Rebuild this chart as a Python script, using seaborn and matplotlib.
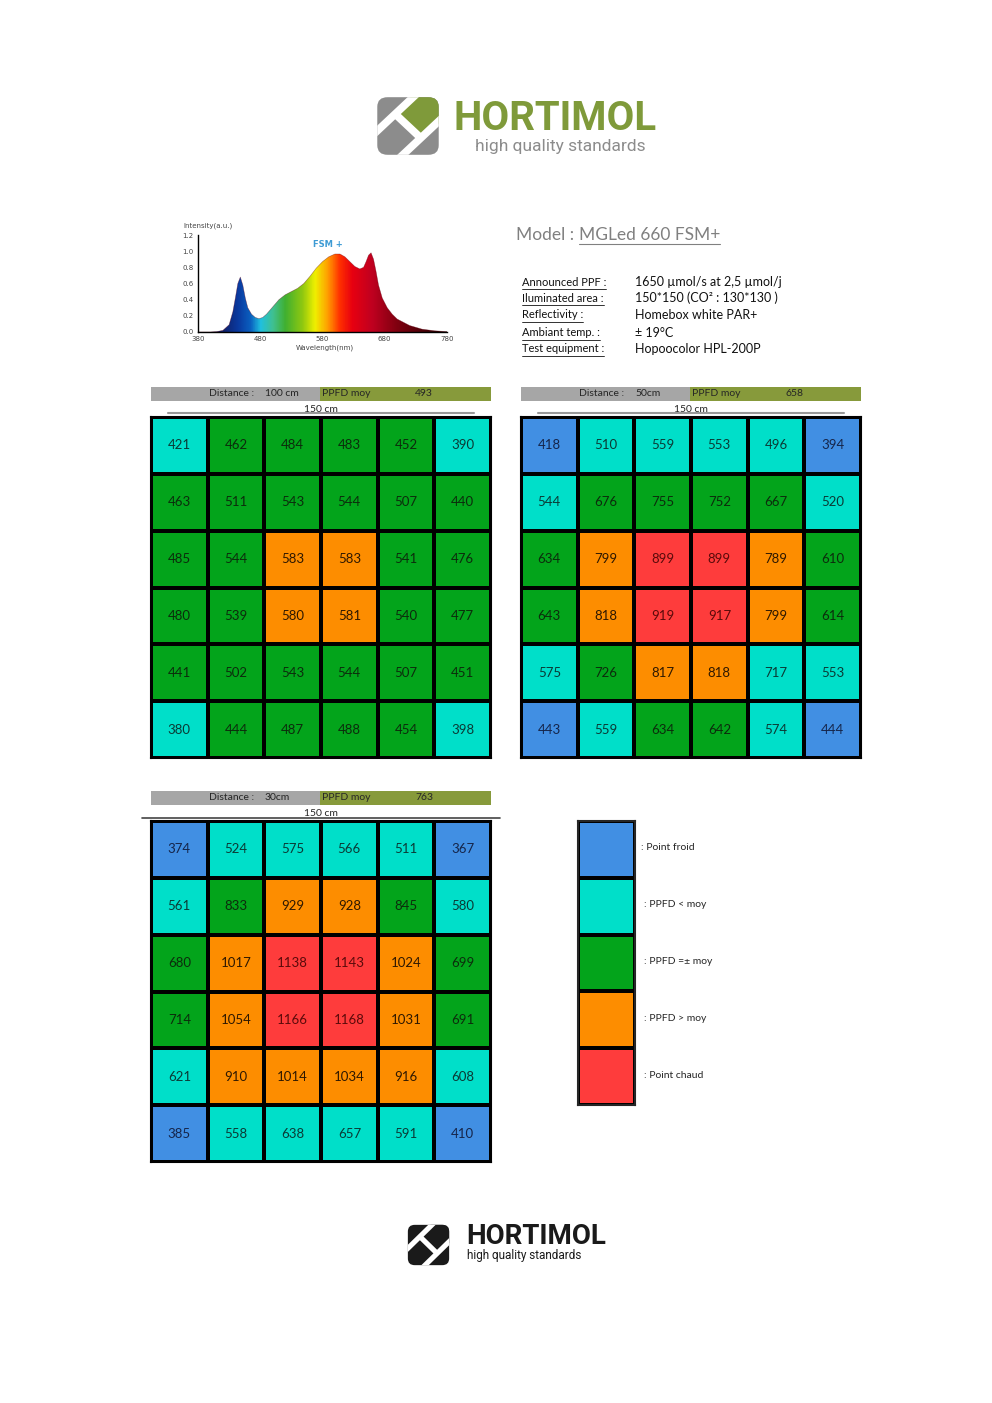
import matplotlib
matplotlib.use("Agg")
import matplotlib.pyplot as plt
from matplotlib.colors import ListedColormap, LinearSegmentedColormap
from matplotlib.patches import Rectangle, FancyBboxPatch, Polygon
from matplotlib.lines import Line2D
import numpy as np
import seaborn as sns

sns.set_style("white")
plt.rcParams['font.family'] = ['Lato', 'DejaVu Sans']

W, H = 992, 1403

# --- données ---
wavelength = [380, 400, 410, 420, 430, 436, 440, 444, 448, 452, 456, 460, 466, 472, 478, 484,
              490, 500, 510, 520, 530, 540, 550, 560, 570, 580, 590, 600, 608, 616, 624, 632,
              640, 646, 650, 654, 658, 662, 666, 670, 676, 684, 692, 700, 720, 740, 760, 780]
intensity = [0.0, 0.0, 0.005, 0.02, 0.09, 0.25, 0.42, 0.60, 0.68, 0.58, 0.42, 0.30, 0.22, 0.18,
             0.165, 0.18, 0.22, 0.31, 0.40, 0.46, 0.50, 0.54, 0.60, 0.69, 0.79, 0.87, 0.93, 0.965,
             0.965, 0.93, 0.87, 0.81, 0.78, 0.80, 0.87, 0.95, 0.98, 0.90, 0.75, 0.58, 0.42, 0.30,
             0.22, 0.16, 0.08, 0.035, 0.015, 0.005]
wl_ticks = [380, 480, 580, 680, 780]
int_ticks = [0.0, 0.2, 0.4, 0.6, 0.8, 1.0, 1.2]

info_labels = ["Announced PPF :", "Iluminated area :", "Reflectivity :", "Ambiant temp. :", "Test equipment :"]
info_values = ["1650 µmol/s at 2,5 µmol/j", "150*150 (CO² : 130*130 )", "Homebox white PAR+",
               "± 19°C", "Hopoocolor HPL-200P"]

distances = ["100 cm", "50cm", "30cm"]
ppfd_moy = [493, 658, 763]

vals_100 = [[421, 462, 484, 483, 452, 390],
            [463, 511, 543, 544, 507, 440],
            [485, 544, 583, 583, 541, 476],
            [480, 539, 580, 581, 540, 477],
            [441, 502, 543, 544, 507, 451],
            [380, 444, 487, 488, 454, 398]]
cls_100 = [[1, 2, 2, 2, 2, 1],
           [2, 2, 2, 2, 2, 2],
           [2, 2, 3, 3, 2, 2],
           [2, 2, 3, 3, 2, 2],
           [2, 2, 2, 2, 2, 2],
           [1, 2, 2, 2, 2, 1]]

vals_50 = [[418, 510, 559, 553, 496, 394],
           [544, 676, 755, 752, 667, 520],
           [634, 799, 899, 899, 789, 610],
           [643, 818, 919, 917, 799, 614],
           [575, 726, 817, 818, 717, 553],
           [443, 559, 634, 642, 574, 444]]
cls_50 = [[0, 1, 1, 1, 1, 0],
          [1, 2, 2, 2, 2, 1],
          [2, 3, 4, 4, 3, 2],
          [2, 3, 4, 4, 3, 2],
          [1, 2, 3, 3, 1, 1],
          [0, 1, 2, 2, 1, 0]]

vals_30 = [[374, 524, 575, 566, 511, 367],
           [561, 833, 929, 928, 845, 580],
           [680, 1017, 1138, 1143, 1024, 699],
           [714, 1054, 1166, 1168, 1031, 691],
           [621, 910, 1014, 1034, 916, 608],
           [385, 558, 638, 657, 591, 410]]
cls_30 = [[0, 1, 1, 1, 1, 0],
          [1, 2, 3, 3, 2, 1],
          [2, 3, 4, 4, 3, 2],
          [2, 3, 4, 4, 3, 2],
          [1, 3, 3, 3, 3, 1],
          [0, 1, 1, 1, 1, 0]]

legend_labels = [": Point froid", ": PPFD < moy", ": PPFD =± moy", ": PPFD > moy", ": Point chaud"]

# couleurs
cell_colors = ["#418fe3", "#00dfc9", "#03a41b", "#fd8d00", "#fe3c3c"]
text_colors = ["#15254a", "#0b3a35", "#0c2c0c", "#2e1800", "#5a0a0a"]
cell_cmap = ListedColormap(cell_colors)


def fx(x):
    return x / W


def fy(y):
    return 1 - y / H


fig = plt.figure(figsize=(W / 100, H / 100), dpi=100)


def rect(x, y, w, h, color, **kw):
    fig.add_artist(Rectangle((fx(x), fy(y + h)), w / W, h / H, transform=fig.transFigure,
                             facecolor=color, edgecolor='none', **kw))


def hline(x0, x1, y, color, lw):
    fig.add_artist(Line2D([fx(x0), fx(x1)], [fy(y), fy(y)], transform=fig.transFigure,
                          color=color, linewidth=lw))


def underline(t, color, lw=0.7, off=2):
    r = fig.canvas.get_renderer()
    bb = t.get_window_extent(r)
    fig.add_artist(Line2D([bb.x0 / W, bb.x1 / W], [(bb.y0 - off) / H] * 2,
                          transform=fig.transFigure, color=color, linewidth=lw))


def logo_icon(x, y, w, h, base, accent):
    ax = fig.add_axes([fx(x), fy(y + h), w / W, h / H])
    ax.set_xlim(0, 1)
    ax.set_ylim(0, 1)
    ax.axis('off')
    box = FancyBboxPatch((0.02, 0.02), 0.96, 0.96, boxstyle="round,pad=0,rounding_size=0.16",
                         facecolor=base, edgecolor='none')
    ax.add_patch(box)
    green = Polygon([(0.3, 0.7), (0.6, 1.05), (1.05, 1.05), (1.05, 0.6), (0.7, 0.3)],
                    facecolor=accent, edgecolor='none')
    ax.add_patch(green)
    green.set_clip_path(box)
    lw = w * 0.12 * 0.72
    for xs, ys in [([-0.2, 0.8], [0.2, 1.2]), ([0.2, 1.2], [-0.2, 0.8]), ([0.28, 0.72], [0.72, 0.28])]:
        ln, = ax.plot(xs, ys, color='white', linewidth=lw, solid_capstyle='butt')
        ln.set_clip_path(box)


# --- logo haut ---
logo_icon(376, 96, 64, 60, '#8c8c8c', '#7f9a3a')
fig.text(fx(453), fy(119), "HORTIMOL", fontsize=29, fontweight='bold', color='#7f9a3a',
         family=['Roboto', 'DejaVu Sans'], va='center', ha='left')
fig.text(fx(475), fy(147), "high quality standards", fontsize=12.5, color='#8c8c8c',
         family=['Roboto', 'DejaVu Sans'], va='center', ha='left')

# --- spectre ---
spec_ax = fig.add_axes([fx(198), fy(332), (447 - 198) / W, (332 - 235) / H])
spec_cmap = LinearSegmentedColormap.from_list("spec", [
    (0.0, "#1a0a40"), (0.1, "#10206a"), (0.16, "#0a3aa0"), (0.21, "#0a60c0"),
    (0.25, "#20c0e0"), (0.3, "#40c090"), (0.35, "#40b030"), (0.42, "#90c810"),
    (0.47, "#f0f000"), (0.52, "#ffa000"), (0.57, "#ff3000"), (0.62, "#e80010"),
    (0.7, "#c00020"), (0.8, "#800010"), (1.0, "#200000")])
sns.lineplot(x=wavelength, y=intensity, ax=spec_ax, color='#600010', linewidth=0.4, alpha=0.5)
poly = spec_ax.fill_between(wavelength, intensity, 0, facecolor='none', edgecolor='none')
grad = np.linspace(380, 780, 400).reshape(1, -1)
img = spec_ax.imshow(grad, extent=[380, 780, 0, 1.2], aspect='auto', cmap=spec_cmap,
                     vmin=380, vmax=780, origin='lower', zorder=1)
img.set_clip_path(poly.get_paths()[0], transform=spec_ax.transData)
spec_ax.set_xlim(380, 780)
spec_ax.set_ylim(0, 1.2)
spec_ax.set_xticks(wl_ticks)
spec_ax.set_xticklabels([str(v) for v in wl_ticks], family='DejaVu Sans', fontsize=5, color='#444')
spec_ax.set_yticks(int_ticks)
spec_ax.set_yticklabels([f"{v:.1f}" for v in int_ticks], family='DejaVu Sans', fontsize=5, color='#444')
spec_ax.tick_params(axis='y', length=2, pad=1, color='#444')
spec_ax.tick_params(axis='x', length=0, pad=3)
for s in ['top', 'right']:
    spec_ax.spines[s].set_visible(False)
for s in ['left', 'bottom']:
    spec_ax.spines[s].set_color('black')
    spec_ax.spines[s].set_linewidth(1)
spec_ax.set_facecolor('white')
fig.text(fx(183), fy(226), "Intensity(a.u.)", fontsize=5, color='#444', family='DejaVu Sans', va='center')
fig.text(fx(325), fy(348), "Wavelength(nm)", fontsize=5, color='#444', family='DejaVu Sans',
         va='center', ha='center')
spec_ax.text(0.52, 0.9, "FSM +", transform=spec_ax.transAxes, fontsize=6, color='#3d9bd4',
             fontweight='bold', family='DejaVu Sans', ha='center', va='center')

# --- infos ---
fig.text(fx(516), fy(235), "Model :", fontsize=12.5, color='#808080', va='center')
t = fig.text(fx(579), fy(235), "MGLed 660 FSM+", fontsize=12.5, color='#808080', va='center')
underline(t, '#808080', lw=0.8, off=1)
ys = [282, 298, 315, 333, 349]
for lab, val, y in zip(info_labels, info_values, ys):
    t = fig.text(fx(522), fy(y), lab, fontsize=8, color='#111', va='center')
    underline(t, '#111', lw=0.6, off=1)
    fig.text(fx(635), fy(y), val, fontsize=9, color='#111', va='center')


# --- tableaux ---
def header(x0, y0, dist, moy, dark_line=False):
    rect(x0, y0, 169, 14, '#a6a6a6')
    rect(x0 + 169, y0, 171, 14, '#879a3b')
    fig.text(fx(x0 + 58), fy(y0 + 7), "Distance :", fontsize=7.5, va='center')
    fig.text(fx(x0 + 114), fy(y0 + 7), dist, fontsize=7.5, va='center')
    fig.text(fx(x0 + 171), fy(y0 + 7), "PPFD moy", fontsize=7.5, va='center')
    fig.text(fx(x0 + 273), fy(y0 + 7), str(moy), fontsize=7.5, va='center', ha='center')
    fig.text(fx(x0 + 170), fy(y0 + 22), "150 cm", fontsize=7.5, va='center', ha='center')
    if dark_line:
        hline(x0 - 9, x0 + 349, y0 + 27, '#444444', 1.2)
    else:
        hline(x0 + 17, x0 + 323, y0 + 26, '#999999', 1.5)


def grid(x0, y0, vals, cls):
    ax = fig.add_axes([fx(x0), fy(y0 + 341), 340 / W, 341 / H])
    sns.heatmap(np.array(cls), annot=np.array(vals), fmt='d', cmap=cell_cmap, vmin=-0.5, vmax=4.5,
                cbar=False, linewidths=1.5, linecolor='black', ax=ax,
                xticklabels=False, yticklabels=False, annot_kws={'fontsize': 9.5})
    for txt, c in zip(ax.texts, np.array(cls).ravel()):
        txt.set_color(text_colors[c])
    for s in ax.spines.values():
        s.set_visible(True)
        s.set_linewidth(1.5)
        s.set_color('black')


for (x0, y0), dist, moy, vals, cls, dark in zip([(151, 387), (521, 387), (151, 791)], distances, ppfd_moy,
                                               [vals_100, vals_50, vals_30], [cls_100, cls_50, cls_30],
                                               [False, False, True]):
    header(x0, y0, dist, moy, dark)
    grid(x0, y0 + 30, vals, cls)

# --- légende ---
leg_ax = fig.add_axes([fx(578), fy(1105), 57 / W, 284 / H])
sns.heatmap(np.arange(5).reshape(-1, 1), cmap=cell_cmap, vmin=-0.5, vmax=4.5, cbar=False,
            linewidths=1.5, linecolor='black', ax=leg_ax, xticklabels=False, yticklabels=False)
for s in leg_ax.spines.values():
    s.set_visible(True)
    s.set_linewidth(1.5)
for i, lab in enumerate(legend_labels):
    fig.text(fx(641 if i == 0 else 644), fy(848 + i * 56.8), lab, fontsize=7.5, va='center')

# --- logo bas ---
logo_icon(407, 1224, 43, 42, '#1a1a1a', '#1a1a1a')
fig.text(fx(466), fy(1237), "HORTIMOL", fontsize=20, fontweight='bold', color='#1a1a1a',
         family=['Roboto', 'DejaVu Sans'], va='center', ha='left')
fig.text(fx(467), fy(1256), "high quality standards", fontsize=8.5, color='#1a1a1a',
         family=['Roboto', 'DejaVu Sans'], va='center', ha='left')

fig.savefig("out.png", dpi=100, facecolor='white')
